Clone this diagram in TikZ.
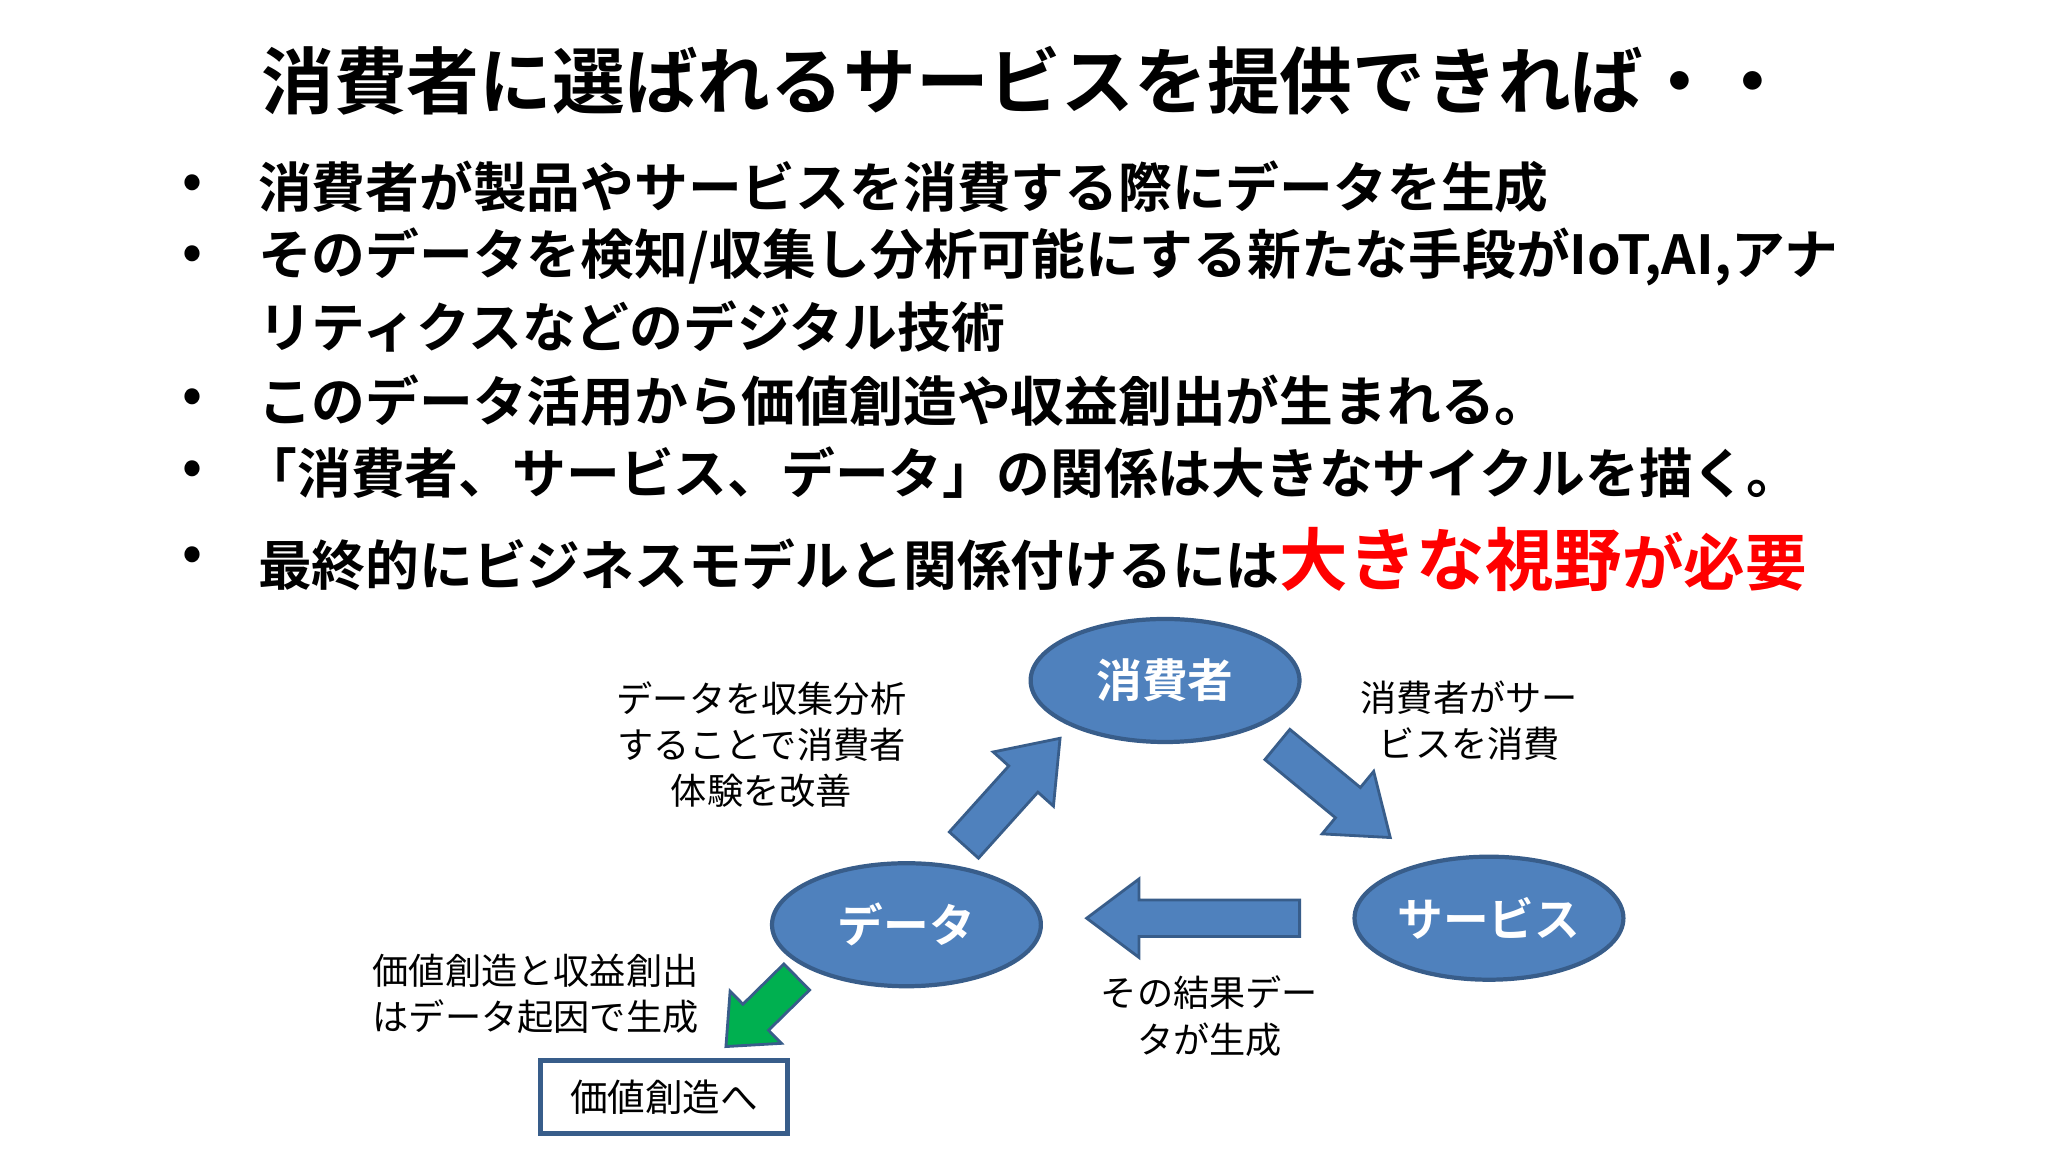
\documentclass[tikz,border=0pt]{standalone}
\usepackage{fontspec}
\setmainfont{Noto Sans CJK JP}
\newfontfamily\jpb{Noto Sans CJK JP Bold}
\usetikzlibrary{shapes.geometric}
\definecolor{ellfill}{HTML}{4F81BD}
\definecolor{elldraw}{HTML}{385D8A}
\definecolor{arrgreen}{HTML}{00B050}
\tikzset{
  ell/.style={ellipse, fill=ellfill, draw=elldraw, line width=1.2pt, minimum width=76.5pt, minimum height=35pt, inner sep=0pt, text=white, font=\jpb\fontsize{13}{15}\selectfont},
  bull/.style={anchor=west, inner sep=0pt, font=\jpb\fontsize{15.3}{17}\selectfont},
  dot/.style={inner sep=0pt, font=\jpb\fontsize{15}{17}\selectfont},
  lab/.style={align=center, inner sep=0pt, font=\fontsize{10.3}{13.2}\selectfont},
  barrow/.style={fill=ellfill, draw=elldraw, line width=0.8pt},
  garrow/.style={fill=arrgreen, draw=elldraw, line width=0.8pt}
}
\newcommand{\blockarr}[4]{(0,-#2)--(#1-#4,-#2)--(#1-#4,-#3)--(#1,0)--(#1-#4,#3)--(#1-#4,#2)--(0,#2)--cycle}
\begin{document}
\begin{tikzpicture}[x=0.013061cm,y=-0.013061cm]
\useasboundingbox (0,0) rectangle (1568,882);
\fill[white] (0,0) rectangle (1568,882);
\node[inner sep=0pt, font=\jpb\fontsize{20.7}{24}\selectfont] (title) at (785,62) {消費者に選ばれるサービスを提供できれば・・};
\foreach \y/\n in {143/b1,197/b2,307/b3,362/b4,428/b5}{\node[dot] (d\n) at (147,\y) {•};}
\node[bull] (b1) at (197,143) {消費者が製品やサービスを消費する際にデータを生成};
\node[bull] (b2) at (197,197) {そのデータを検知/収集し分析可能にする新たな手段がIoT,AI,アナ};
\node[bull] (b2b) at (197,250) {リティクスなどのデジタル技術};
\node[bull] (b3) at (197,307) {このデータ活用から価値創造や収益創出が生まれる。};
\node[bull] (b4) at (186,362) {「消費者、サービス、データ」の関係は大きなサイクルを描く。};
\node[bull] (b5) at (197,428) {最終的にビジネスモデルと関係付けるには{\color{red}\fontsize{19.5}{22}\selectfont 大きな視野{\fontsize{17.5}{20}\selectfont が必要}}};

\node[ell] (cons) at (892,521) {消費者};
\node[ell] (data) at (694,708) {データ};
\node[ell] (serv) at (1140,703) {サービス};

\fill[ellfill, shift={(738,647)}, rotate=48] \blockarr{110}{15}{31}{42};
\draw[elldraw, line width=0.8pt, shift={(738,647)}, rotate=48] \blockarr{110}{15}{31}{42};
\fill[ellfill, shift={(978,570)}, rotate=-39.5] \blockarr{112}{15}{31}{42};
\draw[elldraw, line width=0.8pt, shift={(978,570)}, rotate=-39.5] \blockarr{112}{15}{31}{42};
\fill[ellfill, shift={(995,703)}, rotate=180] \blockarr{163}{14}{30}{40};
\draw[elldraw, line width=0.8pt, shift={(995,703)}, rotate=180] \blockarr{163}{14}{30}{40};
\draw[garrow, shift={(610,748)}, rotate=-135.5] \blockarr{76}{14}{28}{32};

\node[draw=elldraw, line width=1.5pt, minimum width=70.2pt, minimum height=20.8pt, inner sep=0pt, font=\fontsize{10.7}{13}\selectfont] (box) at (508.5,840) {価値創造へ};

\node[lab] (l1) at (583,570) {データを収集分析\\することで消費者\\体験を改善};
\node[lab] (l2) at (1125,552) {消費者がサー\\ビスを消費};
\node[lab] (l3) at (926,778) {その結果デー\\タが生成};
\node[lab] (l4) at (410,761) {価値創造と収益創出\\はデータ起因で生成};
\end{tikzpicture}
\end{document}
